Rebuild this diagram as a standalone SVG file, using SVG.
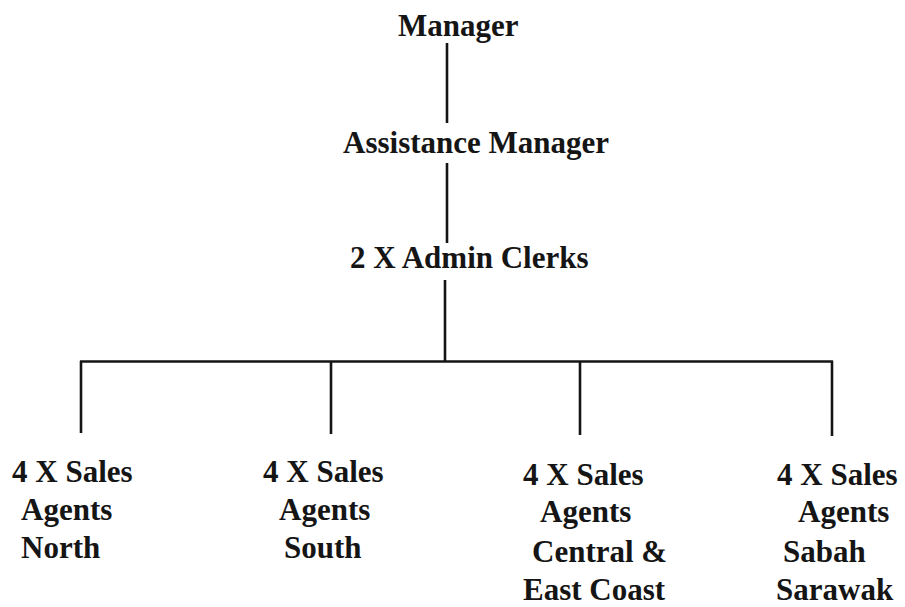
<svg xmlns="http://www.w3.org/2000/svg" width="905" height="607" viewBox="0 0 905 607">
<style>
text{font-family:"Liberation Serif","Times New Roman",serif;font-weight:bold;font-size:31px;fill:#151515}
.c{stroke:#151515;stroke-width:2.6;fill:none;stroke-linecap:butt}
</style>
<rect width="905" height="607" fill="#ffffff"/>
<g id="connectors">
<line class="c" x1="447" y1="43" x2="447" y2="123"/>
<line class="c" x1="447" y1="163" x2="447" y2="243"/>
<line class="c" x1="445" y1="280" x2="445" y2="361"/>
<line class="c" x1="80" y1="361.5" x2="833" y2="361.5"/>
<line class="c" x1="81" y1="361" x2="81" y2="433"/>
<line class="c" x1="331" y1="361" x2="331" y2="434"/>
<line class="c" x1="580" y1="361" x2="580" y2="435"/>
<line class="c" x1="832" y1="361" x2="832" y2="436"/>
</g>
<g id="manager"><text x="398" y="36">Manager</text></g>
<g id="assistant-manager"><text x="343" y="153">Assistance Manager</text></g>
<g id="admin-clerks"><text x="350" y="268">2 X Admin Clerks</text></g>
<g id="sales-north">
<text x="12" y="482">4 X Sales</text>
<text x="21" y="520">Agents</text>
<text x="21" y="558">North</text>
</g>
<g id="sales-south">
<text x="263" y="482">4 X Sales</text>
<text x="279" y="520">Agents</text>
<text x="284" y="558">South</text>
</g>
<g id="sales-central">
<text x="523" y="485">4 X Sales</text>
<text x="540" y="522">Agents</text>
<text x="532" y="562">Central &amp;</text>
<text x="523" y="600">East Coast</text>
</g>
<g id="sales-sabah-sarawak">
<text x="777" y="485">4 X Sales</text>
<text x="798" y="522">Agents</text>
<text x="783" y="562">Sabah</text>
<text x="776" y="600">Sarawak</text>
</g>
</svg>
